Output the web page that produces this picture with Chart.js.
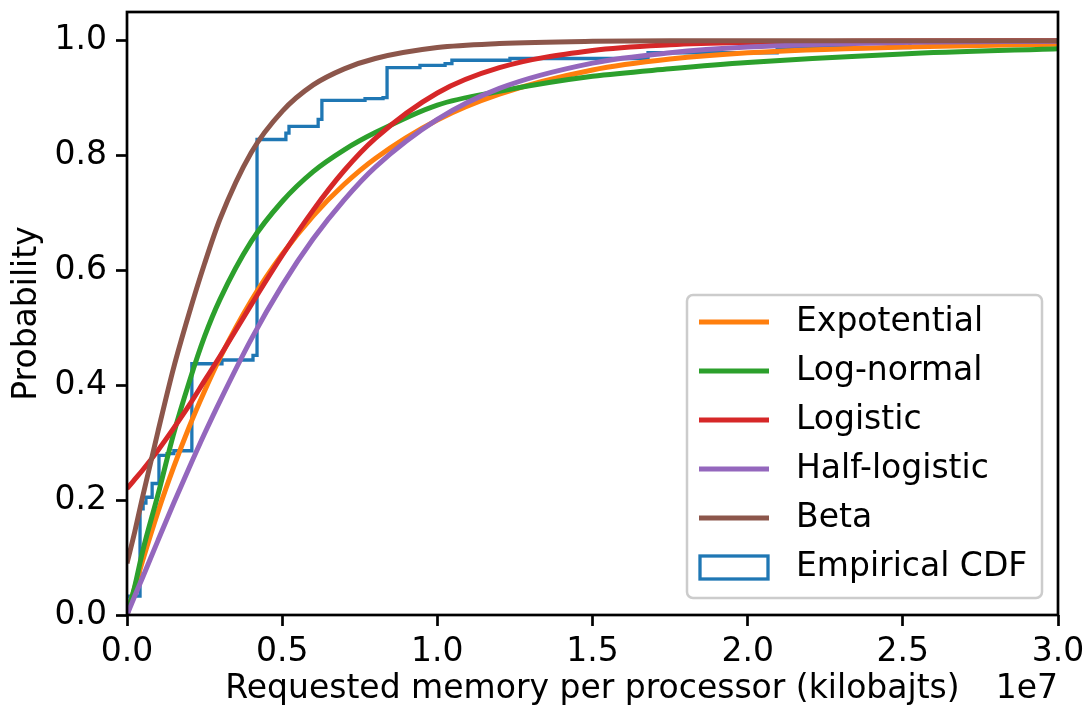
<!DOCTYPE html>
<html lang="en">
<head>
<meta charset="UTF-8">
<title>Requested memory per processor - fitted CDFs</title>
<script src="https://cdn.jsdelivr.net/npm/chart.js"></script>
<style>
  html, body { margin: 0; padding: 0; background: #fff; }
  #wrap { width: 1090px; height: 713px; }
</style>
</head>
<body>
<div id="wrap"><canvas id="cdfChart" width="1090" height="713"></canvas></div>
<script>
// x values are in units of 1e7 kilobajts (axis shows the "1e7" offset)
const X_TICKS = [0, 0.5, 1.0, 1.5, 2.0, 2.5, 3.0];
const Y_TICKS = [0, 0.2, 0.4, 0.6, 0.8, 1.0];

// sample positions for the fitted curves
const fitX = [0, 0.025, 0.05, 0.1, 0.15, 0.2, 0.25, 0.3, 0.4, 0.5, 0.6, 0.7, 0.8, 1.0, 1.2, 1.5, 1.75, 2.0, 2.5, 3.0];

const expotential  = [0, 0.048, 0.094, 0.18, 0.257, 0.327, 0.39, 0.448, 0.547, 0.628, 0.695, 0.75, 0.795, 0.862, 0.907, 0.949, 0.968, 0.979, 0.989, 0.994];
const logNormal    = [0, 0.05, 0.11, 0.21, 0.315, 0.405, 0.485, 0.55, 0.65, 0.72, 0.772, 0.81, 0.84, 0.888, 0.912, 0.938, 0.951, 0.962, 0.977, 0.986];
const logistic     = [0.22, 0.236, 0.252, 0.287, 0.325, 0.365, 0.408, 0.451, 0.54, 0.626, 0.705, 0.774, 0.83, 0.909, 0.953, 0.983, 0.993, 0.997, 0.9995, 0.9999];
const halfLogistic = [0, 0.033, 0.065, 0.13, 0.194, 0.256, 0.316, 0.373, 0.48, 0.574, 0.655, 0.723, 0.78, 0.863, 0.917, 0.961, 0.979, 0.989, 0.997, 0.999];
const beta         = [0.09, 0.145, 0.205, 0.32, 0.43, 0.525, 0.612, 0.69, 0.805, 0.877, 0.923, 0.951, 0.969, 0.988, 0.995, 0.999, 1.0, 1.0, 1.0, 1.0];

// empirical CDF: at each x the curve jumps up to the matching y
const empX = [0, 0, 0.042, 0.052, 0.061, 0.081, 0.103, 0.129, 0.151, 0.209, 0.306, 0.406, 0.419, 0.512, 0.522, 0.616, 0.628, 0.767, 0.825, 0.838, 0.944, 1.025, 1.047, 1.234, 1.679, 2.095, 2.523, 3.1];
const empY = [0, 0.033, 0.185, 0.195, 0.205, 0.229, 0.278, 0.281, 0.286, 0.4375, 0.444, 0.452, 0.828, 0.839, 0.851, 0.863, 0.896, 0.899, 0.901, 0.953, 0.957, 0.96, 0.966, 0.969, 0.979, 0.988, 0.997, 0.997];

const FONT = "'DejaVu Sans', sans-serif";
Chart.defaults.font.family = FONT;
Chart.defaults.font.size = 33;
Chart.defaults.color = '#000';

const toPts = (xs, ys) => xs.map((x, i) => ({ x: x, y: ys[i] }));

function fitLine(label, ys, color, order) {
    return {
        label: label,
        data: toPts(fitX, ys),
        borderColor: color,
        borderWidth: 5,
        cubicInterpolationMode: 'monotone',
        pointRadius: 0,
        fill: false,
        order: order
    };
}

// frame, offset text and the legend box inside the axes
const framePlugin = {
    id: 'frame',
    afterDraw(chart) {
        const ctx = chart.ctx;
        const a = chart.chartArea;
        ctx.save();
        ctx.strokeStyle = '#000';
        ctx.lineWidth = 2.7;
        ctx.strokeRect(a.left, a.top, a.right - a.left, a.bottom - a.top);

        ctx.font = '33px ' + FONT;
        ctx.fillStyle = '#000';
        ctx.textAlign = 'right';
        ctx.textBaseline = 'middle';
        ctx.fillText('1e7', a.right, a.bottom + 74);

        const w = 355, h = 303;
        const x0 = a.right - 16 - w, y0 = a.bottom - 17 - h, r = 6;
        ctx.beginPath();
        ctx.moveTo(x0 + r, y0);
        ctx.arcTo(x0 + w, y0, x0 + w, y0 + h, r);
        ctx.arcTo(x0 + w, y0 + h, x0, y0 + h, r);
        ctx.arcTo(x0, y0 + h, x0, y0, r);
        ctx.arcTo(x0, y0, x0 + w, y0, r);
        ctx.closePath();
        ctx.fillStyle = 'rgba(255,255,255,0.8)';
        ctx.fill();
        ctx.strokeStyle = '#cccccc';
        ctx.lineWidth = 2.5;
        ctx.stroke();

        chart.data.datasets.forEach((ds, i) => {
            const cy = y0 + 27 + i * 49;
            if (ds.stepped) {
                ctx.fillStyle = '#fff';
                ctx.fillRect(x0 + 13, cy - 11, 68, 23);
                ctx.strokeStyle = ds.borderColor;
                ctx.lineWidth = 3.3;
                ctx.strokeRect(x0 + 13, cy - 11, 68, 23);
            } else {
                ctx.strokeStyle = ds.borderColor;
                ctx.lineWidth = 5;
                ctx.beginPath();
                ctx.moveTo(x0 + 12, cy);
                ctx.lineTo(x0 + 82, cy);
                ctx.stroke();
            }
            ctx.fillStyle = '#000';
            ctx.textAlign = 'left';
            ctx.textBaseline = 'middle';
            ctx.fillText(ds.label, x0 + 109, cy);
        });
        ctx.restore();
    }
};

new Chart(document.getElementById('cdfChart'), {
    type: 'line',
    data: {
        datasets: [
            fitLine('Expotential', expotential, '#ff7f0e', 5),
            fitLine('Log-normal', logNormal, '#2ca02c', 4),
            fitLine('Logistic', logistic, '#d62728', 3),
            fitLine('Half-logistic', halfLogistic, '#9467bd', 2),
            fitLine('Beta', beta, '#8c564b', 1),
            {
                label: 'Empirical CDF',
                data: toPts(empX, empY),
                borderColor: '#1f77b4',
                borderWidth: 3.3,
                stepped: 'before',
                pointRadius: 0,
                fill: false,
                order: 10
            }
        ]
    },
    options: {
        responsive: false,
        animation: false,
        devicePixelRatio: 1,
        layout: { padding: { top: 12, right: 32, left: 0, bottom: 0 } },
        plugins: {
            legend: { display: false },
            tooltip: { enabled: false }
        },
        scales: {
            x: {
                type: 'linear',
                min: 0,
                max: 3,
                afterBuildTicks: s => { s.ticks = X_TICKS.map(v => ({ value: v })); },
                afterFit: s => { s.height = 98; s.paddingLeft = 0; s.paddingRight = 0; },
                ticks: { callback: v => v.toFixed(1), padding: 7, color: '#000', maxRotation: 0, autoSkip: false },
                grid: { drawOnChartArea: false, tickLength: 11, tickWidth: 2.7, tickColor: '#000' },
                border: { display: false },
                title: {
                    display: true,
                    text: 'Requested memory per processor (kilobajts)',
                    color: '#000',
                    padding: { top: 0, bottom: 4 }
                }
            },
            y: {
                type: 'linear',
                min: 0,
                max: 1.05,
                afterBuildTicks: s => { s.ticks = Y_TICKS.map(v => ({ value: v })); },
                afterFit: s => { s.width = 127; s.paddingTop = 0; s.paddingBottom = 0; },
                ticks: { callback: v => v.toFixed(1), padding: 9, color: '#000', autoSkip: false },
                grid: { drawOnChartArea: false, tickLength: 11, tickWidth: 2.7, tickColor: '#000' },
                border: { display: false },
                title: {
                    display: true,
                    text: 'Probability',
                    color: '#000',
                    padding: { top: 8, bottom: 0 }
                }
            }
        }
    },
    plugins: [framePlugin]
});
</script>
</body>
</html>
